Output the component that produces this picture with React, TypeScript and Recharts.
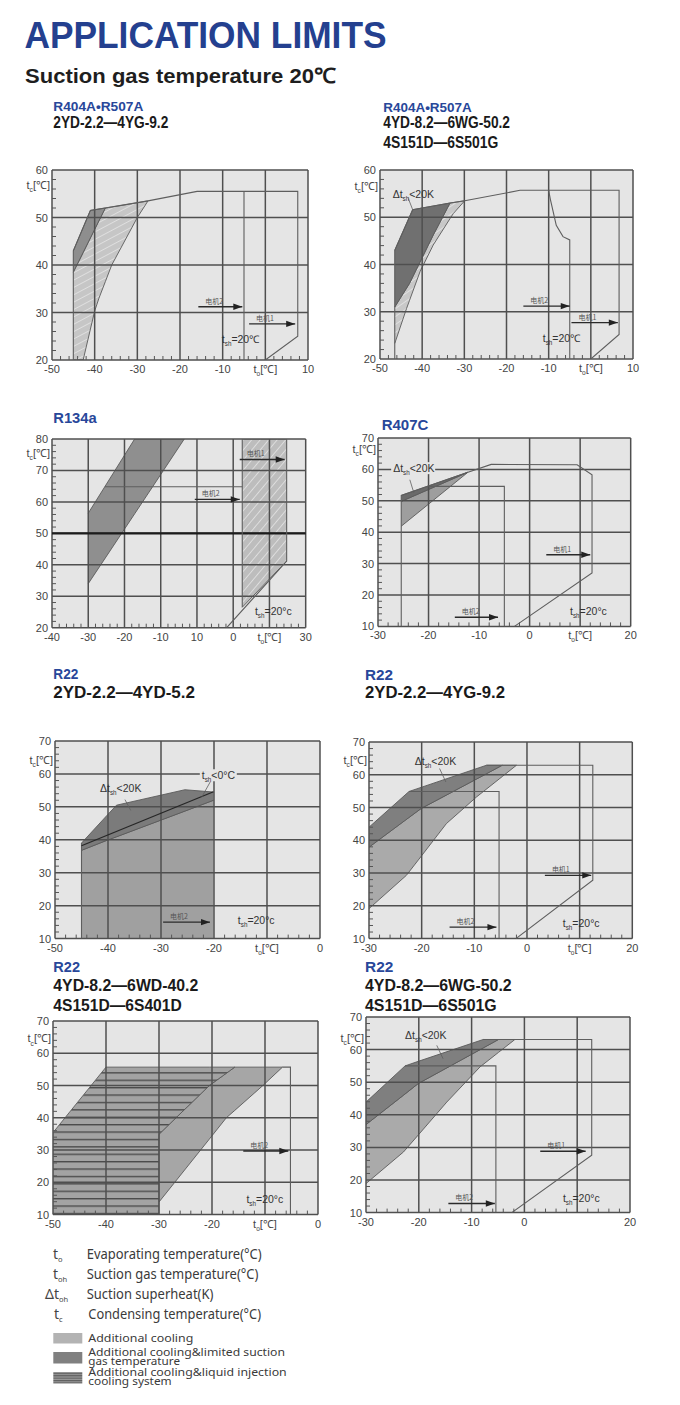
import React from "react";
import {
  Area,
  CartesianGrid,
  ComposedChart,
  Line,
  ReferenceDot,
  ReferenceLine,
  XAxis,
  YAxis,
} from "recharts";

// [x, low, high] for shaded regions, [x, y] for outlines
type Band = [number, number, number][];
type Pts = [number, number][];

const FONT = "'Liberation Sans', Arial, sans-serif";
const CJK = "'Noto Sans CJK SC', sans-serif";
const LEG = "'Noto Sans', 'Open Sans', sans-serif";
const BLUE = "#28479a";
const PLOT_BG = "#e5e5e5";
const GRID = "#4f4f4f";
const EDGE = "#5a5a5a";

// ---- R404A/R507A small ----
const c1Dark: Band = [[-45, 38.5, 43], [-41, 45.7, 51.5], [-37.5, 52, 52]];
const c1Hatch: Band = [
  [-45, 20, 38.5], [-42.7, 20, 42.6], [-40, 30.3, 47.5], [-39, 33, 49.3],
  [-37.5, 36.5, 52], [-36, 40, 52.2], [-30, 50, 53.1], [-27.5, 53.5, 53.5],
];
const c1Outline: Pts = [[-45, 20], [-45, 43], [-41, 51.5], [-27.5, 53.5], [-16, 55.5], [7.6, 55.5], [7.6, 25], [0, 20]];
const c1Motor2: Pts = [[-5, 55.5], [-5, 20]];

// ---- R404A/R507A large ----
const c2Dark: Band = [[-46.5, 31, 43], [-43, 36, 50.1], [-42.25, 37.4, 51.6], [-37.5, 46, 52.35], [-33.4, 53, 53]];
const c2Hatch: Band = [
  [-46.5, 23.3, 31], [-43.7, 30.7, 35], [-43, 32.4, 36], [-40.5, 38.5, 40.5], [-37.5, 43.9, 46],
  [-37.4, 44.1, 46.2], [-33.4, 49.7, 53], [-32.6, 50.8, 53.1], [-29.9, 53.5, 53.5],
];
const c2Outline: Pts = [[-46.5, 20], [-46.5, 43], [-42.25, 51.6], [-33.4, 53], [-29.9, 53.5], [-16.8, 55.7], [6.7, 55.7], [6.7, 25.2], [0, 20]];
const c2Motor2: Pts = [[-10, 55.7], [-9.6, 53.8], [-9.3, 52.6], [-8.2, 48.3], [-6.6, 45.9], [-5, 45.2], [-5, 20]];
const c2Leader: Pts = [[-43.3, 54], [-42.25, 51.6]];

// ---- R134a ----
const c3Dark: Band = [[-30, 34, 56.4], [-17.2, 56.2, 80], [-3.5, 80, 80]];
const c3Hatch: Band = [[12.5, 26.5, 80], [24.75, 41.2, 80]];
const c3Outline: Pts = [[24.75, 80], [24.75, 41.2], [8.2, 20]];
const c3Motor1: Pts = [[12.5, 80], [12.5, 26.5]];
const c3Motor2: Pts = [[-25.4, 64.8], [12.5, 64.8]];

// ---- R407C ----
const c4Wedge: Band = [[-25.4, 49.8, 51.7], [-12.2, 59.1, 59.1]];
const c4Mid: Band = [[-25.4, 41.9, 49.8], [-12.2, 59.1, 59.1]];
const c4Outline: Pts = [[-25.4, 10], [-25.4, 51.7], [-12.2, 59.1], [-7.6, 61.6], [9.4, 61.5], [12.35, 58.3], [12.35, 27], [-3, 10]];
const c4Motor2: Pts = [[-19.9, 54.6], [-5, 54.6], [-5, 10]];
const c4Leader: Pts = [[-23.7, 56.7], [-22.9, 52.5]];

// ---- R22 2YD-2.2—4YD-5.2 ----
const c5Dark: Band = [[-45, 36.8, 39], [-40.2, 39.85, 47.4], [-38.4, 40.9, 50.5], [-25.5, 48.7, 55.2], [-20.1, 52, 54.5]];
const c5Mid: Band = [[-45, 10, 36.8], [-40.2, 10, 39.85], [-20.1, 10, 52]];
const c5Sh0: Pts = [[-45, 38.2], [-20.1, 54.6]];
const c5Left: Pts = [[-45, 10], [-45, 39]];
const c5LeaderDt: Pts = [[-36.8, 52.2], [-35.7, 48.9]];
const c5LeaderSh: Pts = [[-20.7, 57.6], [-22.3, 53]];

// ---- R22 2YD-2.2—4YG-9.2 ----
const c6Dark: Band = [[-30, 37.9, 44], [-22.4, 46.96, 54.9], [-20.1, 49.7, 56.15], [-7.7, 60.3, 62.9], [-4.7, 62.9, 62.9]];
const c6Mid: Band = [
  [-30, 19.15, 37.9], [-22.9, 29.3, 46.4], [-20.1, 35.1, 49.7], [-15.3, 45.1, 53.8],
  [-9.6, 53.2, 58.7], [-4.7, 59.45, 62.9], [-2, 62.9, 62.9],
];
const c6Outline: Pts = [[-7.7, 62.9], [12.5, 62.9], [12.5, 27.8], [-2.1, 10]];
const c6Motor2: Pts = [[-22.4, 54.9], [-5.3, 54.9], [-5.3, 10]];
const c6Leader: Pts = [[-16.6, 61.9], [-15.4, 57.8]];

// ---- R22 4YD-8.2—6WD-40.2 ----
const c7Hatch: Band = [[-50, 10, 35.4], [-40, 10, 55.7], [-30, 10, 55.7], [-30, 34.9, 55.7], [-20.5, 50, 55.7], [-15.7, 55.7, 55.7]];
const c7Mid: Band = [[-30, 13.9, 34.9], [-20.5, 33.4, 50], [-17.3, 40, 53.8], [-15.7, 42.3, 55.7], [-10.4, 50, 55.7], [-6.7, 55.7, 55.7]];
const c7Motor2: Pts = [[-6.7, 55.7], [-5.2, 55.7], [-5.2, 10]];

// ---- R22 4YD-8.2—6WG-50.2 ----
const c8Dark: Band = [[-30, 37, 43.9], [-22.6, 46.4, 55], [-20.1, 49.6, 56.4], [-7.8, 60.5, 63.1], [-4.9, 63.1, 63.1]];
const c8Mid: Band = [
  [-30, 18.9, 37], [-22.9, 28.6, 46], [-20.1, 33.8, 49.6], [-14.7, 43.9, 54.4],
  [-8.4, 54.7, 60], [-4.9, 59.15, 63.1], [-1.8, 63.1, 63.1],
];
const c8Outline: Pts = [[-7.8, 63.1], [12.75, 63.1], [12.75, 27.6], [-2.4, 10]];
const c8Motor2: Pts = [[-22.6, 55], [-5.4, 55], [-5.4, 10]];
const c8Leader: Pts = [[-16.6, 61.3], [-15.4, 57.2]];

type Rich = { main: string; sub: string; rest: string };
const TSH_C: Rich = { main: "t", sub: "sh", rest: "=20℃" };
const TSH: Rich = { main: "t", sub: "sh", rest: "=20°c" };
const DT: Rich = { main: "Δt", sub: "sh", rest: "<20K" };
const SH0: Rich = { main: "t", sub: "sh", rest: "<0°C" };

interface Note { x: number; y: number; t: Rich; bg?: number }
interface Arrow { pts: Pts; text: string }
interface BandCfg { data: Band; fill: string }
interface ChartCfg {
  id: string;
  plot: { left: number; top: number; width: number; height: number };
  xDomain: [number, number];
  yDomain: [number, number];
  xLabels: Record<number, string>;
  tcY: number;
  hatchBase?: string;
  hatchAngle?: number;
  bands: BandCfg[];
  lines: { data: Pts; stroke?: string; width?: number }[];
  arrows: Arrow[];
  notes: Note[];
  boldY?: number;
}

const charts: ChartCfg[] = [
  {
    id: "c1", plot: { left: 52, top: 170, width: 256, height: 190 },
    xDomain: [-50, 10], yDomain: [20, 60], xLabels: { 0: "T0" }, tcY: 56.8, hatchBase: "#c6c6c6", hatchAngle: 62,
    bands: [{ data: c1Hatch, fill: "diag" }, { data: c1Dark, fill: "#8e8e8e" }],
    lines: [{ data: c1Outline }, { data: c1Motor2 }],
    arrows: [{ pts: [[-15.7, 31.2], [-5.4, 31.2]], text: "电机2" }, { pts: [[-3.8, 27.6], [7, 27.6]], text: "电机1" }],
    notes: [{ x: -10.2, y: 24.4, t: TSH_C }],
  },
  {
    id: "c2", plot: { left: 380, top: 170, width: 253, height: 189 },
    xDomain: [-50, 10], yDomain: [20, 60], xLabels: { 0: "T0" }, tcY: 56.6, hatchBase: "#c8c8c8", hatchAngle: 55,
    bands: [{ data: c2Hatch, fill: "diag" }, { data: c2Dark, fill: "#707070" }],
    lines: [{ data: c2Outline }, { data: c2Motor2 }, { data: c2Leader, width: 0.8 }],
    arrows: [{ pts: [[-16, 31.2], [-5, 31.2]], text: "电机2" }, { pts: [[-4.6, 27.7], [6.4, 27.7]], text: "电机1" }],
    notes: [{ x: -11.4, y: 24.4, t: TSH_C }, { x: -47, y: 54.9, t: DT }],
  },
  {
    id: "c3", plot: { left: 52.3, top: 439, width: 253.7, height: 188.7 },
    xDomain: [-40, 30], yDomain: [20, 80], xLabels: { 0: "10", 10: "0", 20: "T0" }, tcY: 75.5,
    hatchBase: "#bdbdbd", hatchAngle: 40,
    bands: [{ data: c3Dark, fill: "#8f8f8f" }, { data: c3Hatch, fill: "diag" }],
    lines: [{ data: c3Outline }, { data: c3Motor1 }, { data: c3Motor2 }],
    arrows: [{ pts: [[11.8, 73.5], [24.2, 73.5]], text: "电机1" }, { pts: [[-0.6, 60.8], [11.8, 60.8]], text: "电机2" }],
    notes: [{ x: 16, y: 25.1, t: TSH }],
    boldY: 50,
  },
  {
    id: "c4", plot: { left: 378.3, top: 438.3, width: 252.7, height: 188.4 },
    xDomain: [-30, 20], yDomain: [10, 70], xLabels: { 10: "T0" }, tcY: 66.6,
    bands: [{ data: c4Mid, fill: "#9e9e9e" }, { data: c4Wedge, fill: "#6a6a6a" }],
    lines: [{ data: c4Outline }, { data: c4Motor2 }, { data: c4Leader, width: 0.8 }],
    arrows: [{ pts: [[3.3, 32.8], [12, 32.8]], text: "电机1" }, { pts: [[-14.8, 12.9], [-6.25, 12.9]], text: "电机2" }],
    notes: [{ x: 8, y: 14.8, t: TSH }, { x: -27, y: 60.4, t: DT, bg: 44 }],
  },
  {
    id: "c5", plot: { left: 55, top: 740.7, width: 265, height: 197.6 },
    xDomain: [-50, 0], yDomain: [10, 70], xLabels: { [-10]: "T0" }, tcY: 64.2,
    bands: [{ data: c5Mid, fill: "#a0a0a0" }, { data: c5Dark, fill: "#7b7b7b" }],
    lines: [{ data: c5Left }, { data: c5Sh0, stroke: "#262626", width: 1.2 }, { data: c5LeaderDt, width: 0.8 }, { data: c5LeaderSh, width: 0.8 }],
    arrows: [{ pts: [[-29.6, 15], [-20.75, 15]], text: "电机2" }],
    notes: [{ x: -15.5, y: 15.5, t: TSH }, { x: -41.5, y: 55.5, t: DT }, { x: -22.3, y: 59.6, t: SH0, bg: 37 }],
  },
  {
    id: "c6", plot: { left: 369.3, top: 741.7, width: 263.3, height: 196.6 },
    xDomain: [-30, 20], yDomain: [10, 70], xLabels: { 10: "T0" }, tcY: 64.4,
    bands: [{ data: c6Mid, fill: "#aaaaaa" }, { data: c6Dark, fill: "#7f7f7f" }],
    lines: [{ data: c6Outline }, { data: c6Motor2 }, { data: c6Leader, width: 0.8 }],
    arrows: [{ pts: [[3.4, 29.3], [12.2, 29.3]], text: "电机1" }, { pts: [[-14.7, 13.5], [-5.8, 13.5]], text: "电机2" }],
    notes: [{ x: 6.8, y: 14.6, t: TSH }, { x: -21.3, y: 63.9, t: DT }],
  },
  {
    id: "c7", plot: { left: 53.3, top: 1020.7, width: 265, height: 193.6 },
    xDomain: [-50, 0], yDomain: [10, 70], xLabels: { [-10]: "T0" }, tcY: 64.6,
    bands: [{ data: c7Mid, fill: "#a6a6a6" }, { data: c7Hatch, fill: "horiz" }],
    lines: [{ data: c7Motor2 }],
    arrows: [{ pts: [[-14.1, 29.7], [-5.6, 29.7]], text: "电机2" }],
    notes: [{ x: -13.5, y: 14.6, t: TSH }],
  },
  {
    id: "c8", plot: { left: 366, top: 1016.7, width: 264, height: 195.6 },
    xDomain: [-30, 20], yDomain: [10, 70], xLabels: { 10: "" }, tcY: 63.5,
    bands: [{ data: c8Mid, fill: "#aaaaaa" }, { data: c8Dark, fill: "#7f7f7f" }],
    lines: [{ data: c8Outline }, { data: c8Motor2 }, { data: c8Leader, width: 0.8 }],
    arrows: [{ pts: [[3, 28.8], [11.6, 28.8]], text: "电机1" }, { pts: [[-14.4, 12.8], [-5.6, 12.8]], text: "电机2" }],
    notes: [{ x: 7.3, y: 14.3, t: TSH }, { x: -22.6, y: 64.2, t: DT }],
  },
];

const ML = 48;
const MT = 8;
const MR = 18;
const XH = 22;

const isMajor = (v: number) => Math.abs(Math.round(v / 10) * 10 - v) < 1e-6;
const stepTicks = ([a, b]: [number, number]) => {
  const out: number[] = [];
  for (let v = a; v <= b + 1e-9; v += 2) out.push(Math.round(v * 10) / 10);
  return out;
};

function RichText({ x, y, t, size = 10.5, anchor = "start", fill = "#333" }: {
  x: number; y: number; t: Rich; size?: number; anchor?: "start" | "middle" | "end"; fill?: string;
}) {
  return (
    <text x={x} y={y} fontSize={size} fill={fill} textAnchor={anchor} fontFamily={FONT}>
      {t.main}
      <tspan fontSize={size * 0.6} dy={size * 0.28}>{t.sub}</tspan>
      <tspan dy={-size * 0.28}>{t.rest}</tspan>
    </text>
  );
}

const T0: Rich = { main: "t", sub: "o", rest: "[℃]" };
const TC: Rich = { main: "t", sub: "c", rest: "[℃]" };

function LimitChart({ c }: { c: ChartCfg }) {
  const { plot } = c;
  const W = ML + plot.width + MR;
  const H = MT + plot.height + XH;
  const bottom = MT + plot.height;
  const xt = stepTicks(c.xDomain);
  const yt = stepTicks(c.yDomain);
  const xg = xt.filter(isMajor);
  const yg = yt.filter(isMajor);
  const hatchId = `${c.id}-diag`;
  const horizId = `${c.id}-horiz`;

  const xTick = (p: any) => {
    const v = p.payload.value as number;
    const x = p.x as number;
    if (!isMajor(v)) {
      return <line x1={x} x2={x} y1={bottom} y2={bottom - 4} stroke="#555" strokeWidth={1} />;
    }
    const lab = c.xLabels[v] ?? String(v);
    if (lab === "T0") return <RichText x={x} y={bottom + 13} t={T0} size={11} anchor="middle" fill="#444" />;
    return (
      <text x={x} y={bottom + 13} textAnchor="middle" fontSize={11} fill="#444" fontFamily={FONT}>
        {lab}
      </text>
    );
  };

  const yTick = (p: any) => {
    const v = p.payload.value as number;
    const y = p.y as number;
    if (!isMajor(v)) {
      return <line x1={ML} x2={ML + 4} y1={y} y2={y} stroke="#555" strokeWidth={1} />;
    }
    return (
      <text x={ML - 4} y={y + 4} textAnchor="end" fontSize={11} fill="#444" fontFamily={FONT}>
        {v}
      </text>
    );
  };

  const arrowDot = (text: string) => (p: any) => {
    const { cx, cy, index } = p;
    if (index === 1) {
      return (
        <polygon key={`h${index}`} points={`${cx},${cy} ${cx - 9},${cy - 3.2} ${cx - 9},${cy + 3.2}`} fill="#222" />
      );
    }
    return (
      <text key={`t${index}`} x={cx + 7} y={cy - 3} fontSize={7} fill="#555" fontFamily={CJK}>
        {text}
      </text>
    );
  };

  return (
    <div style={{ position: "absolute", left: plot.left - ML, top: plot.top - MT }}>
      <ComposedChart width={W} height={H} margin={{ top: MT, right: MR, bottom: 0, left: 0 }}>
        <defs>
          <pattern id={hatchId} patternUnits="userSpaceOnUse" width="6.5" height="6.5"
            patternTransform={`rotate(${c.hatchAngle ?? 45})`}>
            <rect width="6.5" height="6.5" fill={c.hatchBase ?? "#c0c0c0"} />
            <line x1="0" y1="0" x2="0" y2="6.5" stroke="#e6e6e6" strokeWidth="1.5" />
          </pattern>
          <pattern id={horizId} patternUnits="userSpaceOnUse" width="8" height="7.4">
            <rect width="8" height="7.4" fill="#a3a3a3" />
            <line x1="0" y1="0.7" x2="8" y2="0.7" stroke="#454545" strokeWidth="1.3" />
          </pattern>
        </defs>
        <CartesianGrid horizontal={false} vertical={false} fill={PLOT_BG} fillOpacity={1} stroke="none" />
        <XAxis
          type="number" dataKey="x" domain={c.xDomain} allowDataOverflow ticks={xt} interval={0}
          tick={xTick} tickLine={false} axisLine={false} height={XH}
        />
        <YAxis
          type="number" domain={c.yDomain} allowDataOverflow ticks={yt} interval={0}
          tick={yTick} tickLine={false} axisLine={false} width={ML}
        />
        {c.bands.map((b, i) => (
          <Area
            key={`b${i}`}
            data={b.data.map(([x, lo, hi]) => ({ x, r: [lo, hi] }))}
            dataKey="r"
            type="linear"
            fill={b.fill === "diag" ? `url(#${hatchId})` : b.fill === "horiz" ? `url(#${horizId})` : b.fill}
            fillOpacity={1}
            stroke={EDGE}
            strokeWidth={0.9}
            dot={false}
            activeDot={false}
            isAnimationActive={false}
          />
        ))}
        {xg.map((v) => (
          <ReferenceLine key={`gx${v}`} x={v} stroke={GRID} strokeWidth={1.5} />
        ))}
        {yg.map((v) => (
          <ReferenceLine key={`gy${v}`} y={v} stroke={GRID} strokeWidth={1.5} />
        ))}
        {c.boldY !== undefined && <ReferenceLine y={c.boldY} stroke="#1c1c1c" strokeWidth={2.4} />}
        {c.lines.map((l, i) => (
          <Line
            key={`l${i}`}
            data={l.data.map(([x, y]) => ({ x, y }))}
            dataKey="y"
            type="linear"
            stroke={l.stroke ?? "#5e5e5e"}
            strokeWidth={l.width ?? 1.1}
            dot={false}
            activeDot={false}
            isAnimationActive={false}
          />
        ))}
        {c.arrows.map((a, i) => (
          <Line
            key={`a${i}`}
            data={a.pts.map(([x, y]) => ({ x, y }))}
            dataKey="y"
            type="linear"
            stroke="#2a2a2a"
            strokeWidth={1.4}
            dot={arrowDot(a.text)}
            activeDot={false}
            isAnimationActive={false}
          />
        ))}
        <ReferenceDot
          x={c.xDomain[0]}
          y={c.tcY}
          r={0}
          ifOverflow="visible"
          shape={(p: any) => <RichText x={p.cx - 2} y={p.cy + 4} t={TC} size={11} anchor="end" fill="#444" />}
        />
        {c.notes.map((n, i) => (
          <ReferenceDot
            key={`n${i}`}
            x={n.x}
            y={n.y}
            r={0}
            ifOverflow="visible"
            shape={(p: any) => (
              <g>
                {n.bg ? <rect x={p.cx - 2} y={p.cy - 6} width={n.bg} height={12} fill={PLOT_BG} /> : null}
                <RichText x={p.cx} y={p.cy + 3.5} t={n.t} />
              </g>
            )}
          />
        ))}
      </ComposedChart>
    </div>
  );
}

// page headings: [text, x, baseline, length, size, color]
type Head = [string, number, number, number, number, string];
const headings: Head[] = [
  ["R404A•R507A", 53.3, 111, 90, 13.5, BLUE],
  ["2YD-2.2—4YG-9.2", 53.3, 127.7, 115, 16, "#1a1a1a"],
  ["R404A•R507A", 383.3, 111.5, 88.4, 13.5, BLUE],
  ["4YD-8.2—6WG-50.2", 383.3, 128.3, 126.7, 16, "#1a1a1a"],
  ["4S151D—6S501G", 383.3, 148.3, 115, 16, "#1a1a1a"],
  ["R134a", 53.3, 423.3, 43.4, 14, BLUE],
  ["R407C", 381.7, 430, 46.7, 14, BLUE],
  ["R22", 53.3, 679, 25, 14.5, BLUE],
  ["2YD-2.2—4YD-5.2", 53.3, 697.7, 141.7, 16, "#1a1a1a"],
  ["R22", 365, 680, 28, 14.5, BLUE],
  ["2YD-2.2—4YG-9.2", 365, 697.7, 140, 16, "#1a1a1a"],
  ["R22", 53.3, 972.3, 26.7, 14.5, BLUE],
  ["4YD-8.2—6WD-40.2", 53.3, 991, 145, 16, "#1a1a1a"],
  ["4S151D—6S401D", 53.3, 1011, 128.4, 16, "#1a1a1a"],
  ["R22", 365, 972.3, 28.3, 14.5, BLUE],
  ["4YD-8.2—6WG-50.2", 365, 991, 146.7, 16, "#1a1a1a"],
  ["4S151D—6S501G", 365, 1011, 131.7, 16, "#1a1a1a"],
];

// legend: [symbol, sub, symbolX, text, textX, baseline, length]
type LegRow = [string, string, number, string, number, number, number];
const legendRows: LegRow[] = [
  ["t", "o", 53, "Evaporating temperature(°C)", 86.7, 1259, 175],
  ["t", "oh", 53, "Suction gas temperature(°C)", 86.7, 1279, 171.7],
  ["Δt", "oh", 45, "Suction superheat(K)", 86.7, 1299, 126.7],
  ["t", "c", 54, "Condensing temperature(°C)", 88.3, 1319, 172.7],
];
// swatch rows: [fill, y, lines: [text, baseline, length]]
type SwRow = [string, number, [string, number, number][]];
const swatchRows: SwRow[] = [
  ["#b3b3b3", 1333, [["Additional cooling", 1342, 105]]],
  ["#808080", 1352, [["Additional cooling&limited suction", 1356, 196.7], ["gas temperature", 1365, 91.7]]],
  ["url(#leg-horiz)", 1372, [["Additional cooling&liquid injection", 1376, 198.4], ["cooling system", 1385, 83.4]]],
];

export default function App() {
  return (
    <div style={{ position: "absolute", left: 0, top: 0, width: 680, height: 1405, background: "#fff", overflow: "hidden" }}>
      <svg width={680} height={1405} style={{ position: "absolute", left: 0, top: 0 }}>
        <defs>
          <pattern id="leg-horiz" patternUnits="userSpaceOnUse" width="8" height="2.4">
            <rect width="8" height="2.4" fill="#9a9a9a" />
            <line x1="0" y1="0.6" x2="8" y2="0.6" stroke="#555" strokeWidth="1" />
          </pattern>
        </defs>
        <text x={24.5} y={47.5} fontSize={36} fontWeight="bold" fill="#24408f" fontFamily={FONT}
          textLength={362} lengthAdjust="spacingAndGlyphs">
          APPLICATION LIMITS
        </text>
        <text x={25} y={83.3} fontSize={21} fontWeight="bold" fill="#1e1e1e" fontFamily={FONT}
          textLength={311} lengthAdjust="spacingAndGlyphs">
          Suction gas temperature 20℃
        </text>
        {headings.map(([t, x, y, len, size, color], i) => (
          <text key={`h${i}`} x={x} y={y} fontSize={size} fontWeight="bold" fill={color} fontFamily={FONT}
            textLength={len} lengthAdjust="spacingAndGlyphs">
            {t}
          </text>
        ))}
        {legendRows.map(([sym, sub, sx, text, tx, y, len], i) => (
          <g key={`lg${i}`}>
            <text x={sx} y={y} fontSize={14} fill="#444" fontFamily={LEG}>
              {sym}
              <tspan fontSize={7.5} dy={3}>{sub}</tspan>
            </text>
            <text x={tx} y={y} fontSize={14} fill="#3a3a3a" fontFamily={LEG}
              textLength={len} lengthAdjust="spacingAndGlyphs">
              {text}
            </text>
          </g>
        ))}
        {swatchRows.map(([fill, y, lines], i) => (
          <g key={`sw${i}`}>
            <rect x={53.3} y={y} width={29} height={i === 0 ? 10.5 : 11.5} fill={fill} />
            {lines.map(([t, by, len], j) => (
              <text key={j} x={88.3} y={by} fontSize={11.5} fill="#3a3a3a" fontFamily={LEG}
                textLength={len} lengthAdjust="spacingAndGlyphs">
                {t}
              </text>
            ))}
          </g>
        ))}
      </svg>
      {charts.map((c) => (
        <LimitChart key={c.id} c={c} />
      ))}
    </div>
  );
}
